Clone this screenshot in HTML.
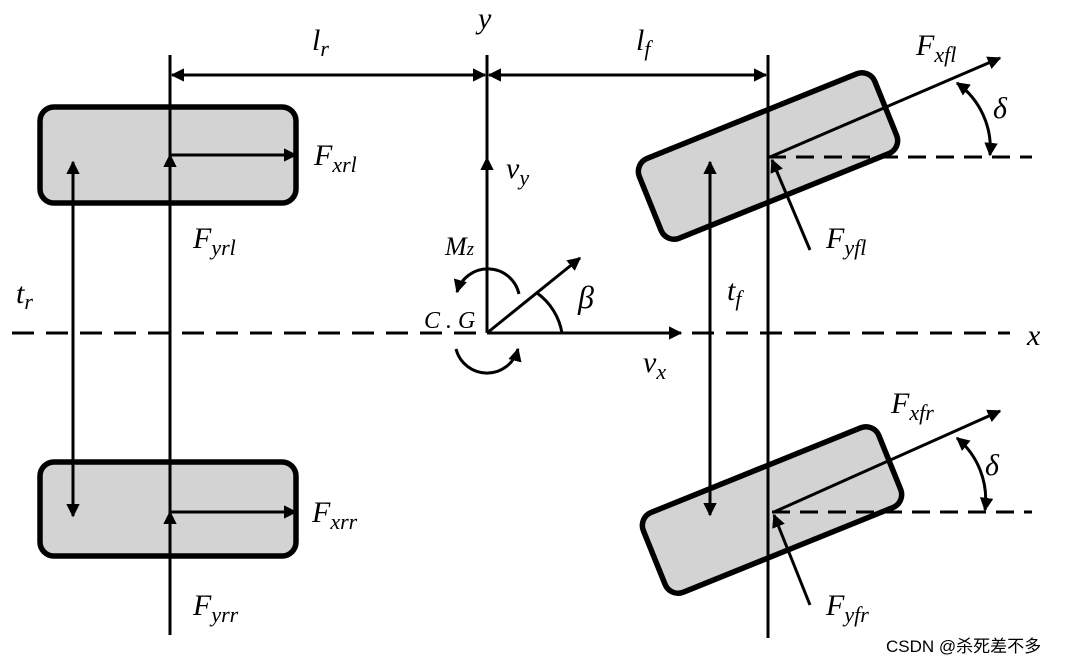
<!DOCTYPE html>
<html><head><meta charset="utf-8"><style>body{margin:0;background:#fff}svg{display:block}text{font-family:"Liberation Serif",serif;font-style:italic;fill:#000}</style></head><body>
<svg width="1072" height="663" viewBox="0 0 1072 663" xmlns="http://www.w3.org/2000/svg">
<defs><marker id="a" viewBox="0 0 10 10" refX="9" refY="5" markerWidth="4.5" markerHeight="4.5" orient="auto-start-reverse"><path d="M0,0L10,5L0,10z" fill="#000"/></marker></defs>
<g stroke="#000" stroke-width="3" fill="none">
<line x1="12" y1="333" x2="1010" y2="333" stroke-dasharray="22,12"/>
</g>
<g fill="#d3d3d3" stroke="#000" stroke-width="5.5">
<rect x="40" y="107" width="256" height="96" rx="14"/>
<rect x="40" y="462" width="256" height="94" rx="14"/>
<rect x="641" y="113" width="254" height="86" rx="14" transform="rotate(-22 768 156)"/>
<rect x="645" y="467" width="254" height="86" rx="14" transform="rotate(-22 772 510)"/>
</g>
<g stroke="#000" stroke-width="3" fill="none">
<line x1="768" y1="157" x2="1032" y2="157" stroke-dasharray="18,10"/>
<line x1="772" y1="512" x2="1032" y2="512" stroke-dasharray="18,10"/>
<line x1="170" y1="55" x2="170" y2="635"/>
<line x1="487" y1="55" x2="487" y2="333"/>
<line x1="768" y1="55" x2="768" y2="638"/>
<line x1="172" y1="75" x2="485" y2="75" marker-start="url(#a)" marker-end="url(#a)"/>
<line x1="489" y1="75" x2="766" y2="75" marker-start="url(#a)" marker-end="url(#a)"/>
<line x1="170" y1="300" x2="170" y2="155" marker-end="url(#a)"/>
<line x1="170" y1="155" x2="296" y2="155" marker-end="url(#a)"/>
<line x1="170" y1="630" x2="170" y2="512" marker-end="url(#a)"/>
<line x1="170" y1="512" x2="296" y2="512" marker-end="url(#a)"/>
<line x1="73" y1="162" x2="73" y2="516" marker-start="url(#a)" marker-end="url(#a)"/>
<line x1="487" y1="333" x2="487" y2="158" marker-end="url(#a)"/>
<line x1="487" y1="333" x2="681" y2="333" marker-end="url(#a)"/>
<line x1="487" y1="333" x2="580" y2="258" marker-end="url(#a)"/>
<path d="M537,293 A62,62 0 0 1 562,333"/>
<path d="M519,294 A32,32 0 0 0 457,292" marker-end="url(#a)"/>
<path d="M456,349 A32,32 0 0 0 518,349" marker-end="url(#a)"/>
<line x1="710" y1="162" x2="710" y2="515" marker-start="url(#a)" marker-end="url(#a)"/>
<line x1="770" y1="157" x2="1000" y2="58" marker-end="url(#a)"/>
<line x1="810" y1="250" x2="772" y2="160" marker-end="url(#a)"/>
<path d="M957,83 A80,80 0 0 1 990,155" marker-start="url(#a)" marker-end="url(#a)"/>
<line x1="774" y1="512" x2="1000" y2="411" marker-end="url(#a)"/>
<line x1="810" y1="605" x2="774" y2="515" marker-end="url(#a)"/>
<path d="M957,438 A80,80 0 0 1 985,510" marker-start="url(#a)" marker-end="url(#a)"/>
</g>
<g font-size="30">
<text x="312" y="50">l<tspan font-size="22" dy="6">r</tspan></text>
<text x="478" y="28">y</text>
<text x="636" y="50">l<tspan font-size="22" dy="6">f</tspan></text>
<text x="314" y="165">F<tspan font-size="22" dy="7">xrl</tspan></text>
<text x="193" y="248">F<tspan font-size="22" dy="7">yrl</tspan></text>
<text x="16" y="303">t<tspan font-size="22" dy="6">r</tspan></text>
<text x="506" y="178">v<tspan font-size="22" dy="7">y</tspan></text>
<text x="445" y="255" font-size="26">M<tspan font-size="19">z</tspan></text>
<text x="424" y="328" font-size="24">C . G</text>
<text x="578" y="308" font-size="32">β</text>
<text x="643" y="372">v<tspan font-size="22" dy="7">x</tspan></text>
<text x="1027" y="345">x</text>
<text x="727" y="300">t<tspan font-size="22" dy="6">f</tspan></text>
<text x="916" y="55">F<tspan font-size="22" dy="7">xfl</tspan></text>
<text x="993" y="118">δ</text>
<text x="826" y="248">F<tspan font-size="22" dy="7">yfl</tspan></text>
<text x="312" y="522">F<tspan font-size="22" dy="7">xrr</tspan></text>
<text x="193" y="615">F<tspan font-size="22" dy="7">yrr</tspan></text>
<text x="891" y="413">F<tspan font-size="22" dy="7">xfr</tspan></text>
<text x="985" y="475">δ</text>
<text x="826" y="615">F<tspan font-size="22" dy="7">yfr</tspan></text>
</g>
<text x="886" y="652" font-size="17" style="font-style:normal;font-family:'Liberation Sans','Noto Sans CJK SC',sans-serif" fill="#555">CSDN @杀死差不多</text>
</svg>
</body></html>
